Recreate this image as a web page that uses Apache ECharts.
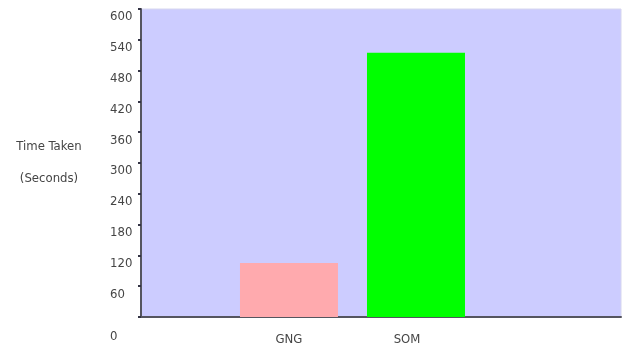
<!DOCTYPE html>
<html>
<head>
<meta charset="utf-8">
<style>
  html, body { margin: 0; padding: 0; background: #ffffff; }
  #chart { width: 624px; height: 351px; }
</style>
<script src="https://cdn.jsdelivr.net/npm/echarts@6/dist/echarts.min.js"></script>
</head>
<body>
<div id="chart"></div>
<script>
// Training time per algorithm, in seconds
const categories = ['GNG', 'SOM'];
const timeTaken = [105, 515];
const yTicks = { min: 0, max: 600, step: 60 };

const barColors = ['#ffaaae', '#00ff00'];
const fontFamily = '"DejaVu Sans Condensed", "Liberation Sans Narrow", Arial, sans-serif';
const fontSize = 13;
const textColor = '#454545';

const chart = echarts.init(document.getElementById('chart'), null, { renderer: 'canvas' });

chart.setOption({
  animation: false,
  grid: {
    left: 141, right: 3, top: 9, bottom: 34,
    show: true,
    backgroundColor: '#ccccff',
    borderColor: '#d6d6ee',
    borderWidth: 1
  },
  xAxis: {
    type: 'value',
    // one unit per category; the plot leaves empty space at both ends
    min: -1.165,
    max: 2.614,
    splitLine: { show: false },
    axisTick: { show: false },
    axisLine: { show: true, onZero: false, lineStyle: { color: '#55555f', width: 2 } },
    axisLabel: {
      customValues: categories.map((c, i) => i),
      margin: 16,
      color: textColor,
      fontFamily: fontFamily,
      fontSize: fontSize,
      formatter: v => {
        const name = categories[Math.round(v)];
        return name === 'SOM' ? '{s|' + name + '}' : name;
      },
      rich: { s: { padding: [0, 18, 0, 0], fontFamily: fontFamily, fontSize: fontSize, color: textColor } }
    }
  },
  yAxis: {
    type: 'value',
    min: yTicks.min,
    max: yTicks.max,
    interval: yTicks.step,
    name: 'Time Taken\n(Seconds)',
    nameLocation: 'middle',
    nameRotate: 0,
    nameGap: 92,
    nameTextStyle: {
      color: textColor,
      fontFamily: fontFamily,
      fontSize: fontSize,
      lineHeight: 32,
      padding: [8, 0, 0, 0],
      align: 'center'
    },
    splitLine: { show: false },
    axisLine: { show: true, onZero: false, lineStyle: { color: '#55555f', width: 2 } },
    axisTick: { show: true, length: 3, lineStyle: { color: '#333344', width: 2 } },
    axisLabel: {
      align: 'left',
      margin: 31,
      color: textColor,
      fontFamily: fontFamily,
      fontSize: fontSize,
      formatter: v => (v === 0 ? '{z|0}' : '{n|' + v + '}'),
      rich: {
        n: { padding: [16, 0, 0, 0], fontFamily: fontFamily, fontSize: fontSize, color: textColor },
        z: { padding: [40, 0, 0, 0], fontFamily: fontFamily, fontSize: fontSize, color: textColor }
      }
    }
  },
  series: [{
    type: 'bar',
    barWidth: 98,
    data: timeTaken.map((t, i) => ({
      value: [i, t],
      itemStyle: { color: barColors[i] }
    }))
  }]
});
</script>
</body>
</html>
